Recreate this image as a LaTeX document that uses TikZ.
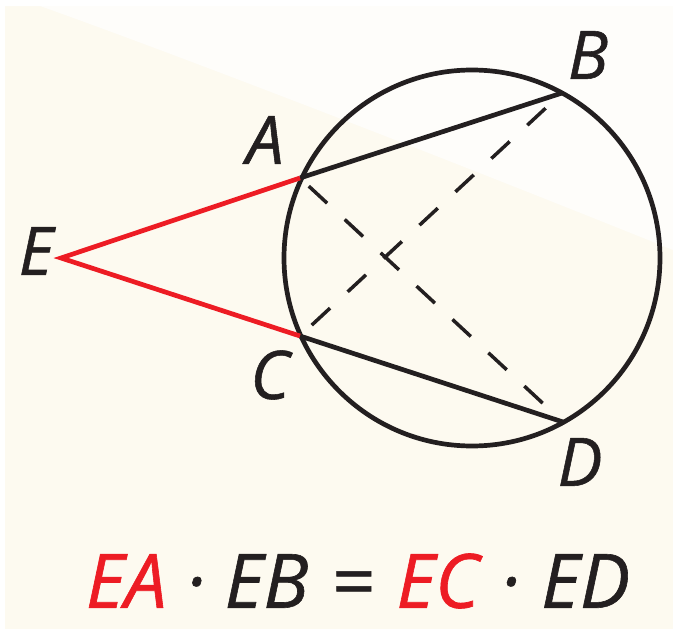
\documentclass[tikz,border=0pt]{standalone}
\usepackage{fontspec}
\setmainfont{Open Sans}[ItalicFeatures={FakeBold=0.8}]
\definecolor{figred}{RGB}{237,28,36}
\definecolor{figblack}{RGB}{35,31,32}
\definecolor{cream}{RGB}{253,250,240}
\definecolor{paleshade}{RGB}{254,253,250}
\begin{document}
\begin{tikzpicture}[x=1pt,y=-1pt,
  solidline/.style={draw=figblack,line width=4.7pt},
  redline/.style={draw=figred,line width=4.7pt},
  dashline/.style={draw=figblack,line width=3.5pt,dash pattern=on 25pt off 24pt},
  lab/.style={font=\fontsize{67}{70}\selectfont\itshape,text=figblack,inner sep=0pt},
  eqn/.style={font=\fontsize{75}{80}\selectfont\itshape,text=figblack,inner sep=0pt}]
% background
\fill[white] (0,0) rectangle (673,629);
\fill[cream] (5,6) rectangle (673,629);
\fill[paleshade] (5,6) -- (40,6) .. controls (150,45) and (400,140) .. (673,250) -- (673,6) -- cycle;
\useasboundingbox (0,0) rectangle (673,629);
% points
\coordinate (O) at (472,258);
\coordinate (A) at (300,178);
\coordinate (B) at (562,93);
\coordinate (C) at (300,336);
\coordinate (D) at (563,422);
\coordinate (E) at (61,258);
% circle
\draw[solidline] (O) circle[radius=188pt];
% chords
\draw[solidline] (A) -- (B);
\draw[solidline] (C) -- (D);
% dashed
\draw[dashline,shorten <=12pt,shorten >=26pt] (A) -- (D);
\draw[dashline,shorten <=16pt,shorten >=20pt] (C) -- (B);
% red secant parts
\draw[redline,line join=miter] (A) -- (E) -- (C);
% labels
\node[lab] (lA) at (265,140) {A};
\node[lab] (lB) at (588,55) {B};
\node[lab] (lC) at (270,375) {C};
\node[lab] (lD) at (580,462) {D};
\node[lab] (lE) at (36,251) {E};
\node[eqn] (eq) at (358,581) {\textcolor{figred}{EA}\makebox[58pt]{·}EB\makebox[88pt]{=}\textcolor{figred}{EC}\makebox[62pt]{·}ED};
\end{tikzpicture}
\end{document}
